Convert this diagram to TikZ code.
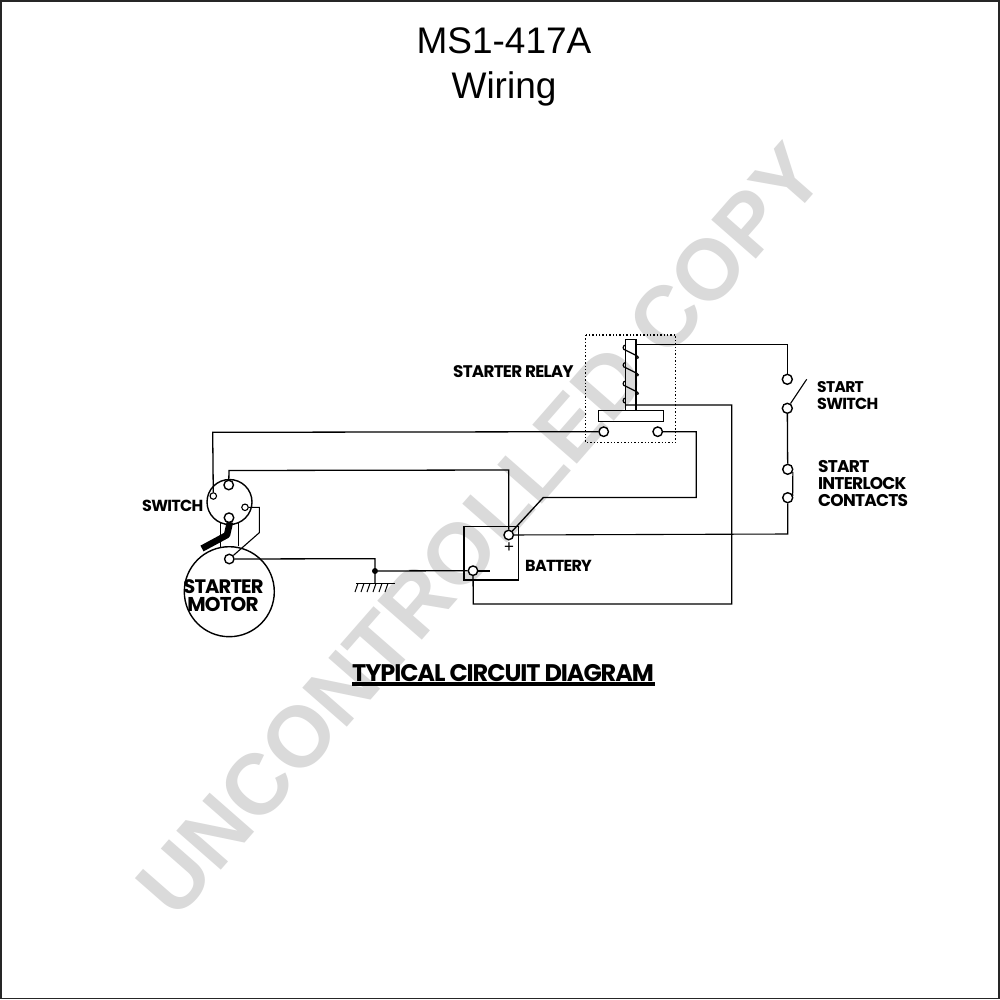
\documentclass[tikz,border=0pt]{standalone}
\usepackage{fontspec}
\setmainfont{Liberation Sans}
\newfontfamily\lbl{Poppins}[LetterSpace=-4.5]
\definecolor{wm}{HTML}{DADADA}
\tikzset{
  wire/.style={line width=1.3pt,black,line join=miter},
  thinwire/.style={line width=1.1pt,black},
  term/.style={circle,draw=black,line width=1.4pt,fill=white,inner sep=0pt,minimum size=9.5pt},
  smallterm/.style={circle,draw=black,line width=1.1pt,fill=white,inner sep=0pt,minimum size=6.5pt},
  lab/.style={font=\lbl\bfseries\fontsize{#1}{#1}\selectfont,inner sep=0pt,text=black,anchor=west},
  lab/.default=17,
  titl/.style={font=\fontsize{37}{40}\selectfont,inner sep=0pt,text=black},
}
\begin{document}
\begin{tikzpicture}[x=1pt,y=-1pt]
\useasboundingbox (0,0) rectangle (1000,1000);
\fill[white] (0,0) rectangle (1000,1000);
\draw[line width=1.3pt,black!85] (1,1) rectangle (999,998.5);
% watermark
\node[rotate=48.8,text=wm,inner sep=0pt,font=\bfseries\fontsize{86}{86}\selectfont] (mark) at (480,530) {UNCONTROLLED COPY};
% titles
\node[titl] (t1) at (504,41) {MS1-417A};
\node[titl] (t2) at (504,89) {Wiring};
% relay
\draw[line width=1.4pt,dotted,black] (585.7,335) rectangle (675.7,442.7);
\node[draw=black,line width=1.4pt,minimum width=65pt,minimum height=11pt,inner sep=0pt] (bar) at (630.8,416.2) {};
\draw[line width=1.4pt] (625.7,410.7) -- (625.7,339.3) -- (636,339.3) -- (636,410.7);
\coordinate (coilA) at (636,344.5);
\coordinate (coilL) at (625.7,405);
\coordinate (coilR) at (731.7,405);
\coordinate (retB) at (731.7,604);
\coordinate (retA) at (473.3,604);
\foreach \y in {348,365.5,384}{
  \draw[line width=1.2pt] (625.7,\y-3) arc[start angle=90,end angle=270,radius=2.6pt] -- ++(11,5.5) arc[start angle=90,end angle=-60,radius=1.6pt];
}
\draw[line width=1.2pt] (625.7,398) arc[start angle=90,end angle=270,radius=2.6pt];
% battery
\node[draw=black,line width=1.4pt,minimum width=54.3pt,minimum height=53.3pt,inner sep=0pt] (batt) at (491.2,553.3) {};
\node (plus) at (509,547.3) [inner sep=0pt] {\fontsize{17}{17}\selectfont +};
\coordinate (minA) at (478,570.7);
\coordinate (minB) at (490,570.7);
\draw[line width=1.8pt] (minA) -- (minB);
% switch and motor
\node[circle,draw=black,line width=1.4pt,minimum size=45pt,inner sep=0pt] (sw) at (229.5,502) {};
\node[circle,draw=black,line width=1.4pt,minimum size=90pt,inner sep=0pt] (motor) at (229.3,591.7) {};
\coordinate (lnkA) at (220.7,523);
\coordinate (lnkB) at (220.7,548);
\coordinate (lnkC) at (238.3,522);
\coordinate (lnkD) at (238.3,546);
\draw[thinwire] (lnkA) -- (lnkB);
\draw[thinwire] (lnkC) -- (lnkD);
\coordinate (armA) at (230,522);
\coordinate (armB) at (227,535);
\coordinate (armC) at (202,548.5);
\draw[line width=6.5pt,black,line join=round] (armA) -- (armB) -- (armC);
% terminals
\node[term] (rl) at (603.7,431.7) {};
\node[term] (rr) at (657.7,431.7) {};
\node[term] (bp) at (508.7,535) {};
\node[term] (bm) at (473,570.7) {};
\node[term,minimum size=10pt] (s1) at (787.3,379.3) {};
\node[term,minimum size=10pt] (s2) at (787.3,408.3) {};
\node[term,minimum size=10pt] (c1) at (787.7,469.3) {};
\node[term,minimum size=10pt] (c2) at (787.7,497.7) {};
\node[term] (st) at (228.7,485) {};
\node[smallterm] (sl) at (213.3,496) {};
\node[smallterm] (sr) at (245,507.3) {};
\node[term] (sb) at (229,517.7) {};
\node[term] (mt) at (229.3,559) {};
% ground
\node[circle,fill=black,inner sep=0pt,minimum size=6pt] (gj) at (375,571) {};
\coordinate (g0) at (375,558.7);
\coordinate (g1) at (375,583.3);
\coordinate (gl) at (356,583.3);
\coordinate (gr) at (395,583.3);
\draw[wire] (mt) -- (g0) -- (g1);
\draw[wire] (gl) -- (gr);
\foreach \x in {358,364,370,376,382,388}{
  \draw[line width=1pt] (\x,583.3) -- (\x-3,592);
}
\draw[wire] (gj) -- (bm);
% wiring
\draw[wire] (sl) -- (212.7,432.3) -- (rl);
\draw[wire] (st) -- (229,470.5) -- (508.7,470) -- (bp);
\draw[wire] (rr) -- (696.3,431.7) -- (696.3,497.5) -- (543.3,497.5) -- (bp);
\draw[thinwire] (bp) -- (787.7,534) -- (c2);
\draw[thinwire] (coilA) -- (787.3,344.5) -- (s1);
\draw[wire] (coilL) -- (coilR) -- (retB) -- (retA) -- (bm);
\draw[thinwire] (sr) -- (259.3,507.3) -- (259.3,532.7) -- (mt);
\draw[wire] (s2) -- (c1);
\coordinate (blade) at (806.7,379.3);
\draw[thinwire] (s2) -- (blade);
\draw[line width=1.2pt] (c1) .. controls (793,472) and (792.8,475) .. (792.8,480) -- (792.8,490) .. controls (792.8,494) and (792,496) .. (c2);
% labels
\node[lab=16.8] (l1) at (453,372) {STARTER RELAY};
\node[lab=16] (l2) at (142,506) {SWITCH};
\node[lab=15.5] (l3) at (817,387) {START};
\node[lab=16] (l4) at (817,404) {SWITCH};
\node[lab=17] (l5) at (818,467) {START};
\node[lab=17] (l6) at (818,484) {INTERLOCK};
\node[lab=17] (l7) at (818,500.5) {CONTACTS};
\node[lab=16] (l8) at (525,566) {BATTERY};
\node[lab=19.5,anchor=center] (l9) at (223.5,586.5) {STARTER};
\node[lab=20,anchor=center] (l10) at (223,604) {MOTOR};
\node[lab=24] (l11) at (352,673) {TYPICAL CIRCUIT DIAGRAM};
\draw[line width=3.5pt] (352,684) -- (655,684);
\end{tikzpicture}
\end{document}
